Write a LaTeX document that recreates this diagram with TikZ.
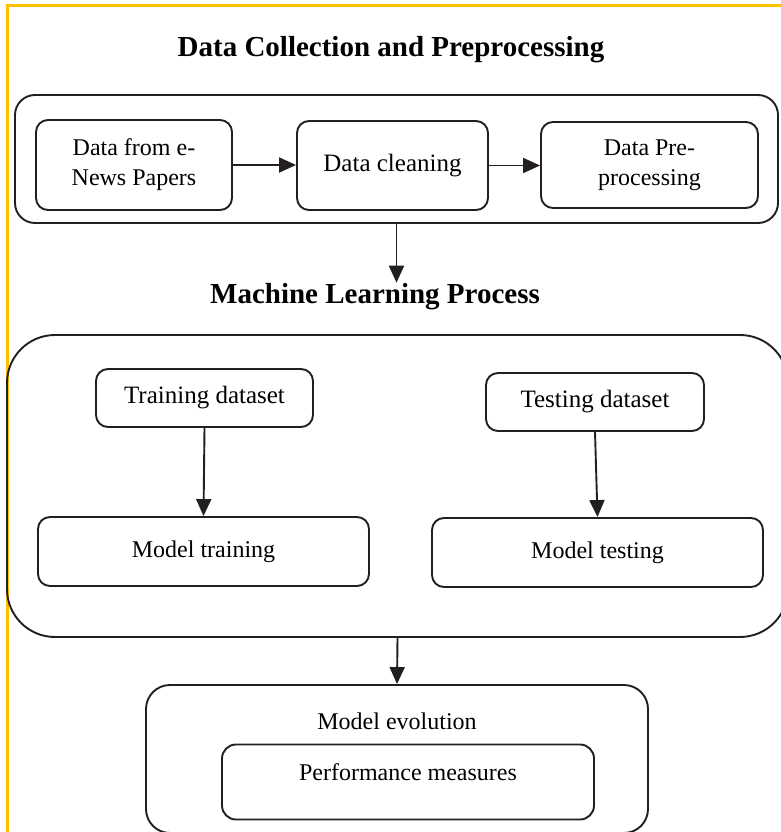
\documentclass[tikz,border=0pt]{standalone}
\usepackage{fontspec}
\setmainfont{Liberation Serif}
\usetikzlibrary{arrows.meta}
\definecolor{frameyellow}{HTML}{FFC000}
\definecolor{ink}{HTML}{231F20}
\tikzset{
	stage/.style={draw=ink, line width=1.9pt, rounded corners=12pt, align=center, inner sep=0pt, font=\fontsize{24}{30}\selectfont},
	dataset/.style={stage, font=\fontsize{25}{30}\selectfont},
	group/.style={draw=ink, line width=1.9pt, inner sep=0pt},
	heading/.style={font=\fontsize{29}{34}\selectfont\bfseries, inner sep=0pt, anchor=base},
	flow/.style={draw=ink, line width=1.9pt, -{Triangle[length=17pt,width=15pt]}},
}
\begin{document}
		\begin{tikzpicture}[x=1pt, y=-1pt]
			\useasboundingbox (0,0) rectangle (780,832);
			\draw [frameyellow, line width=3pt] (7,6) rectangle (800,850);

			% data collection
			\node [heading] (dcptitle) at (391,57) {Data Collection and Preprocessing};
			\node [group, rounded corners=20pt, minimum width=763pt, minimum height=128pt] (dcp) at (396.5,159) {};
			\node [stage, minimum width=196pt, minimum height=90pt] (news) at (134,165) {Data from e-\\News Papers};
			\node [dataset, minimum width=191pt, minimum height=89pt] (clean) at (392.5,165.5) {Data cleaning};
			\node [stage, minimum width=217pt, minimum height=86pt] (prep) at (649.5,165) {Data Pre-\\processing};
			\draw [flow] (news.east) -- (news.east -| clean.west);
			\draw [flow] (clean.east) -- (clean.east -| prep.west);

			% machine learning
			\node [heading] (mltitle) at (375,303) {Machine Learning Process};
			\draw [flow] (dcp.south) -- (dcp.south |- mltitle.north);
			\node [group, rounded corners=48pt, minimum width=781pt, minimum height=302pt] (ml) at (397.5,486) {};
			\node [dataset, minimum width=217pt, minimum height=58pt] (train) at (204.5,398) {Training dataset};
			\node [dataset, minimum width=218pt, minimum height=58pt] (test) at (595,402) {Testing dataset};
			\node [stage, minimum width=331pt, minimum height=69pt] (mtrain) at (203.5,551.5) {Model training};
			\node [stage, minimum width=331pt, minimum height=69pt] (mtest) at (597.5,552.5) {Model testing};
			\draw [flow] (train.south) -- (mtrain.north);
			\draw [flow] (test.south) -- (mtest.north);

			% evaluation
			\node [group, rounded corners=24pt, minimum width=502pt, minimum height=148pt] (eval) at (397,759) {};
			\node [anchor=base, inner sep=0pt, font=\fontsize{24}{30}\selectfont] (evaltitle) at (397,729) {Model evolution};
			\node [stage, rounded corners=14pt, minimum width=372pt, minimum height=75pt, text height=16pt, text depth=20pt] (perf) at (408,782) {Performance measures};
			\draw [flow] (ml.south) -- (eval.north);
		\end{tikzpicture}
\end{document}
